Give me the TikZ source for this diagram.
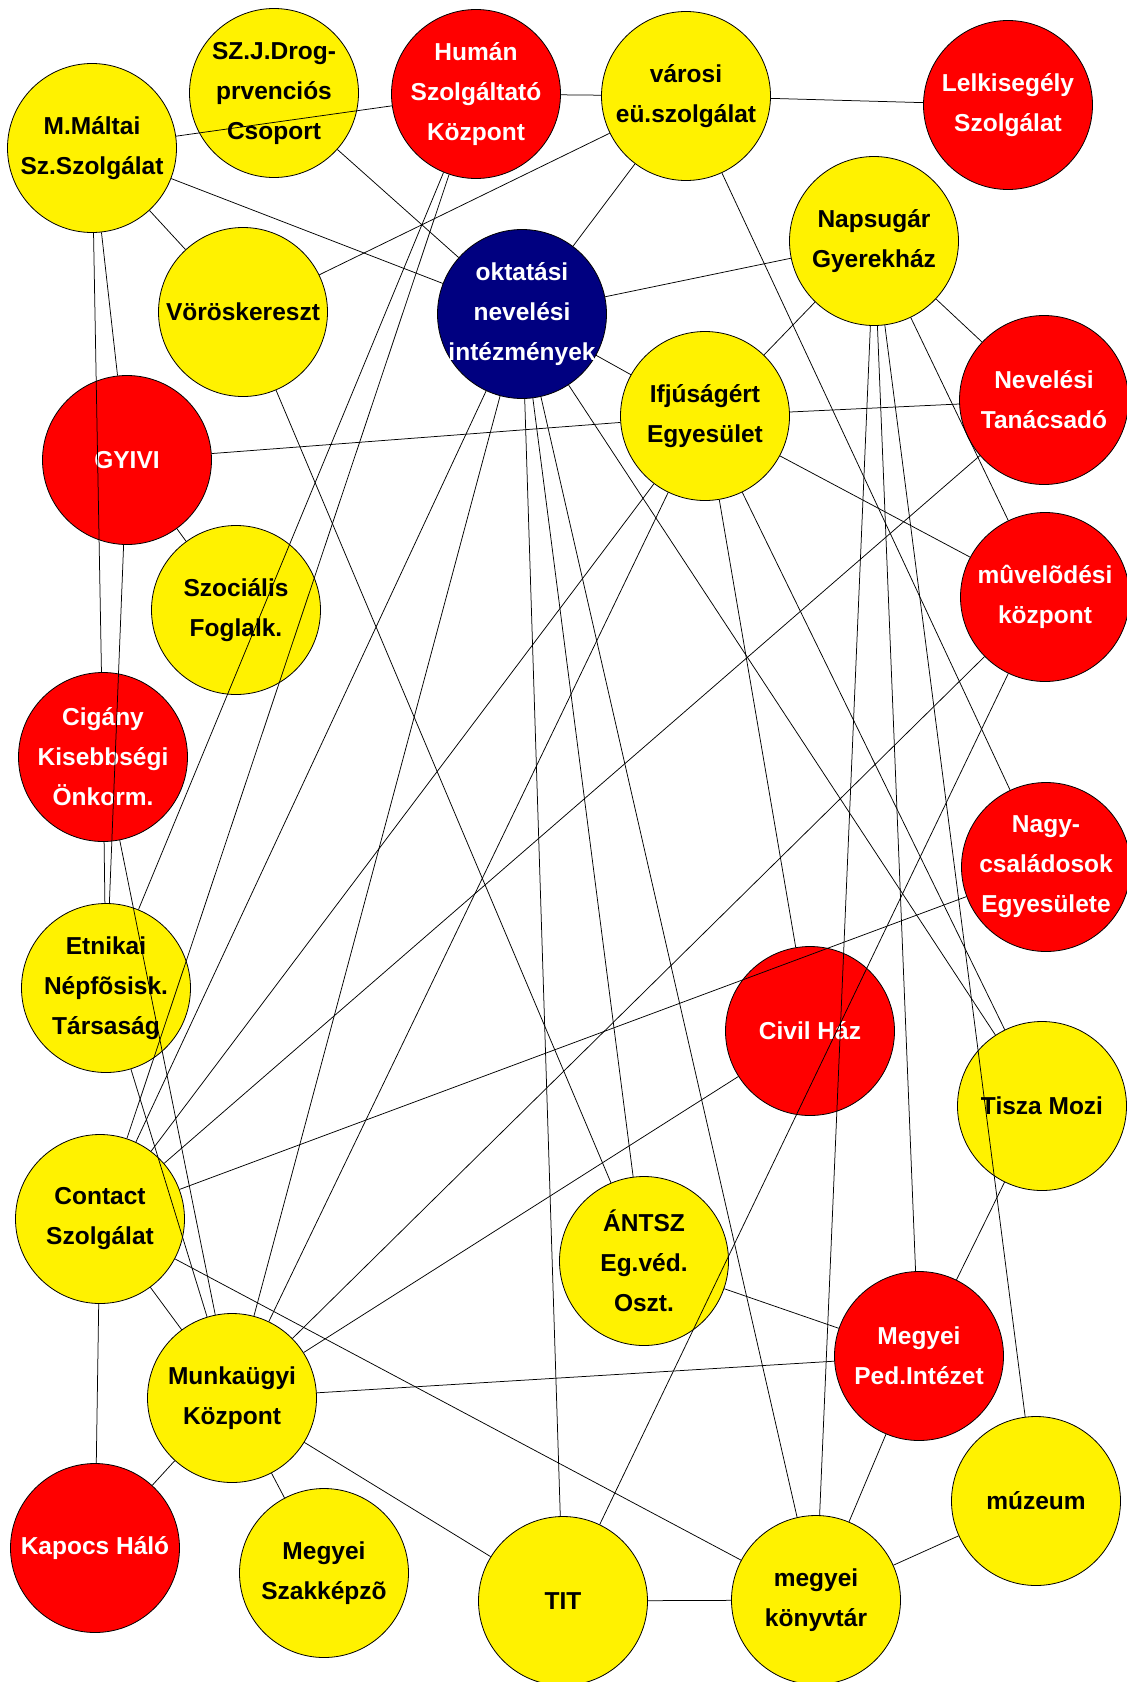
\documentclass[tikz,border=0pt]{standalone}
\usepackage{fontspec}
\setmainfont{Liberation Sans}
\definecolor{navyblue}{RGB}{0,0,128}
\begin{document}
\begin{tikzpicture}[x=1pt,y=-1pt,
  nd/.style={circle,draw=black,line width=0.8pt,minimum size=169pt,inner sep=0pt},
  yelnode/.style={nd,fill=yellow},
  rednode/.style={nd,fill=red},
  bluenode/.style={nd,fill=navyblue},
  dtxt/.style={font=\fontsize{24.5}{40}\selectfont\bfseries,align=center,text=black,inner sep=0pt},
  wtxt/.style={font=\fontsize{24.5}{40}\selectfont\bfseries,align=center,text=white,inner sep=0pt},
  edge/.style={line width=0.75pt,draw=black}]
\fill[white] (0,0) rectangle (1127,1682);
\useasboundingbox (0,0) rectangle (1127,1682);

\node[yelnode,label={[dtxt]center:{M.Máltai\\Sz.Szolgálat}}] (MM) at (92,148) {};
\node[yelnode,label={[dtxt]center:{SZ.J.Drog-\\prvenciós\\Csoport}}] (SZJ) at (274,93) {};
\node[rednode,label={[wtxt]center:{Humán\\Szolgáltató\\Központ}}] (HU) at (476,94) {};
\node[yelnode,label={[dtxt]center:{városi\\eü.szolgálat}}] (VE) at (686,96) {};
\node[rednode,label={[wtxt]center:{Lelkisegély\\Szolgálat}}] (LS) at (1008,105) {};
\node[yelnode,label={[dtxt]center:{Napsugár\\Gyerekház}}] (NG) at (874,241) {};
\node[bluenode,label={[wtxt]center:{oktatási\\nevelési\\intézmények}}] (OK) at (522,314) {};
\node[yelnode,label={[dtxt]center:{Vöröskereszt}}] (VK) at (243,312) {};
\node[yelnode,label={[dtxt]center:{Ifjúságért\\Egyesület}}] (IF) at (705,416) {};
\node[rednode,label={[wtxt]center:{Nevelési\\Tanácsadó}}] (NT) at (1044,400) {};
\node[rednode,label={[wtxt]center:{GYIVI}}] (GY) at (127,460) {};
\node[yelnode,label={[dtxt]center:{Szociális\\Foglalk.}}] (SF) at (236,610) {};
\node[rednode,label={[wtxt]center:{mûvelõdési\\központ}}] (MK) at (1045,597) {};
\node[rednode,label={[wtxt]center:{Cigány\\Kisebbségi\\Önkorm.}}] (CK) at (103,757) {};
\node[rednode,label={[wtxt]center:{Nagy-\\családosok\\Egyesülete}}] (NC) at (1046,867) {};
\node[yelnode,label={[dtxt]center:{Etnikai\\Népfõsisk.\\Társaság}}] (ET) at (106,988) {};
\node[rednode,label={[wtxt]center:{Civil Ház}}] (CH) at (810,1031) {};
\node[yelnode,label={[dtxt]center:{Tisza Mozi}}] (TM) at (1042,1106) {};
\node[yelnode,label={[dtxt]center:{Contact\\Szolgálat}}] (CS) at (100,1219) {};
\node[yelnode,label={[dtxt]center:{ÁNTSZ\\Eg.véd.\\Oszt.}}] (AN) at (644,1261) {};
\node[rednode,label={[wtxt]center:{Megyei\\Ped.Intézet}}] (MP) at (919,1356) {};
\node[yelnode,label={[dtxt]center:{Munkaügyi\\Központ}}] (MU) at (232,1398) {};
\node[yelnode,label={[dtxt]center:{múzeum}}] (MZ) at (1036,1501) {};
\node[rednode,label={[wtxt]center:{Kapocs Háló}}] (KH) at (95,1548) {};
\node[yelnode,label={[dtxt]center:{Megyei\\Szakképzõ}}] (MS) at (324,1573) {};
\node[yelnode,label={[dtxt]center:{TIT}}] (TT) at (563,1601) {};
\node[yelnode,label={[dtxt]center:{megyei\\könyvtár}}] (KV) at (816,1600) {};

\foreach \a/\b in {MM/HU,MM/OK,MM/VK,MM/CK,MM/GY,CK/ET,GY/ET,GY/IF,GY/SF,
  SZJ/OK,HU/VE,HU/ET,HU/CS,VK/VE,VK/AN,VE/OK,VE/LS,VE/NC,
  OK/NG,OK/IF,OK/CS,OK/MU,OK/TT,OK/AN,OK/KV,OK/TM,
  NG/IF,NG/NT,NG/MK,NG/KV,NG/MP,NG/MZ,
  IF/NT,IF/CS,IF/MU,IF/CH,IF/MK,IF/TM,
  NT/CS,MK/MU,MK/TT,NC/CS,CK/MU,ET/MU,CH/MU,
  CS/KV,CS/MU,CS/KH,MU/MP,MU/KH,MU/MS,MU/TT,
  AN/MP,TT/KV,TM/MP,MP/KV,KV/MZ}
  \draw[edge] (\a) -- (\b);
\end{tikzpicture}
\end{document}
